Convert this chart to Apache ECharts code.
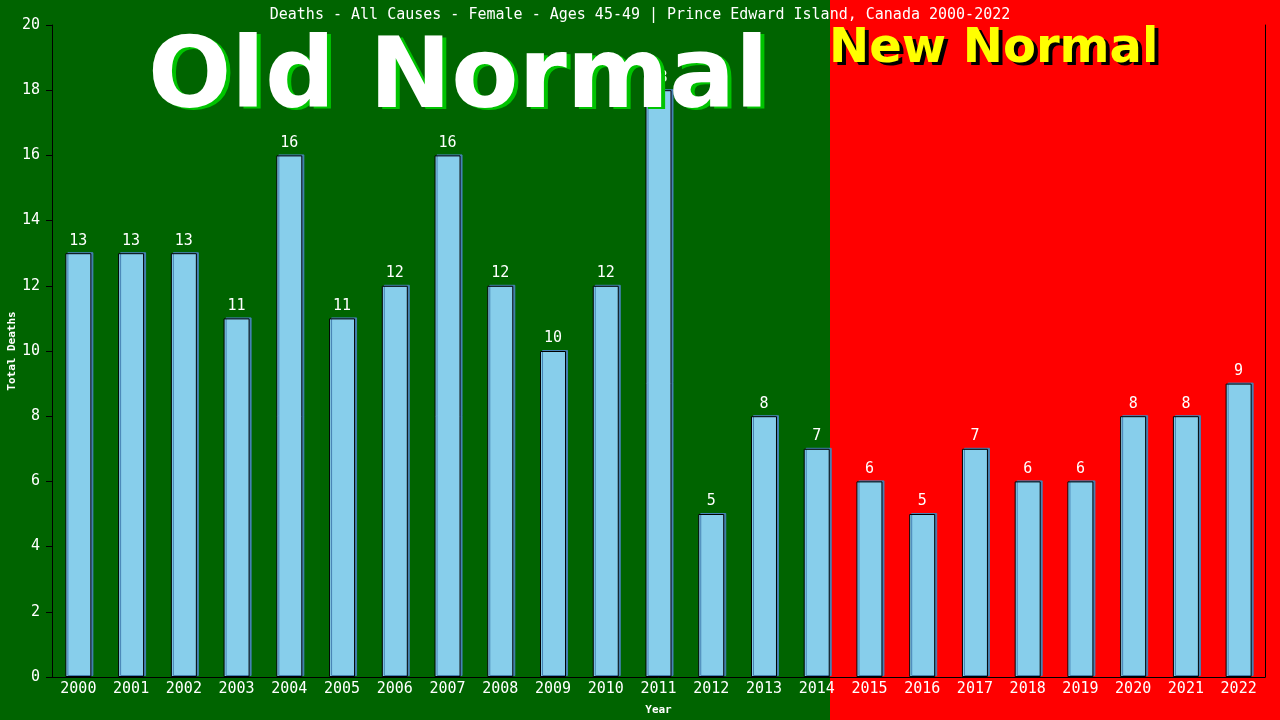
<!DOCTYPE html>
<html>
<head>
<meta charset="utf-8">
<script src="https://cdn.jsdelivr.net/npm/echarts@6/dist/echarts.min.js"></script>
<style>
  html, body { margin: 0; padding: 0; background: #006400; }
  #chart { width: 1280px; height: 720px; }
</style>
</head>
<body>
<div id="chart"></div>
<script>
// data
var years = ['2000','2001','2002','2003','2004','2005','2006','2007','2008','2009','2010','2011',
             '2012','2013','2014','2015','2016','2017','2018','2019','2020','2021','2022'];
var deaths = [13, 13, 13, 11, 16, 11, 12, 16, 12, 10, 12, 18, 5, 8, 7, 6, 5, 7, 6, 6, 8, 8, 9];
var yTicks = [0, 2, 4, 6, 8, 10, 12, 14, 16, 18, 20];

var mono = '"DejaVu Sans Mono", "Liberation Mono", monospace';
var bigFont = '"DejaVu Sans", Verdana, sans-serif';

var chart = echarts.init(document.getElementById('chart'));

var option = {
  backgroundColor: '#006400',
  animation: false,
  title: {
    text: 'Deaths - All Causes - Female - Ages 45-49 | Prince Edward Island, Canada 2000-2022',
    left: 'center',
    top: 3,
    textStyle: { color: '#fff', fontFamily: mono, fontSize: 15, fontWeight: 'normal' }
  },
  graphic: [
    // red "new normal" background, from the end of 2014 to the right edge
    { type: 'rect', z: -10, silent: true,
      shape: { x: 830, y: 0, width: 450, height: 720 },
      style: { fill: '#ff0000' } },
    // shadow copies drawn first, then the text
    { type: 'text', z: 99, left: 152, top: 35,
      style: { text: 'Old Normal', fill: '#00c400', font: 'bold 98px ' + bigFont } },
    { type: 'text', z: 100, left: 148, top: 33,
      style: { text: 'Old Normal', fill: '#fff', font: 'bold 98px ' + bigFont } },
    { type: 'text', z: 99, left: 833, top: 29,
      style: { text: 'New Normal', fill: '#000', font: 'bold 48px ' + bigFont } },
    { type: 'text', z: 100, left: 829, top: 26,
      style: { text: 'New Normal', fill: '#ffff00', font: 'bold 48px ' + bigFont } }
  ],
  grid: { left: 52, right: 15, top: 25, bottom: 43, show: false, outerBoundsMode: 'none', containLabel: false },
  xAxis: {
    type: 'category',
    data: years,
    name: 'Year',
    nameLocation: 'middle',
    nameGap: 28,
    nameMoveOverlap: false,
    nameTextStyle: { color: '#fff', fontFamily: mono, fontSize: 11, fontWeight: 'bold' },
    axisLine: { lineStyle: { color: '#000', width: 1 } },
    axisTick: { show: false },
    axisLabel: { color: '#fff', fontFamily: mono, fontSize: 15, margin: 5 }
  },
  yAxis: [{
    type: 'value',
    min: 0, max: 20, interval: 2,
    name: 'Total Deaths',
    nameLocation: 'middle',
    nameGap: 34,
    nameMoveOverlap: false,
    nameTextStyle: { color: '#fff', fontFamily: mono, fontSize: 11, fontWeight: 'bold' },
    axisLine: { show: true, lineStyle: { color: '#000', width: 1 } },
    axisTick: { show: true, length: 6, lineStyle: { color: '#000' } },
    axisLabel: { color: '#fff', fontFamily: mono, fontSize: 15, margin: 12,
                 formatter: function (v) { return yTicks.indexOf(v) >= 0 ? String(v) : ''; } },
    splitLine: { show: false }
  }, {
    type: 'value',
    min: 0, max: 20, interval: 2,
    position: 'right',
    axisLine: { show: true, lineStyle: { color: '#000', width: 1 } },
    axisTick: { show: false },
    axisLabel: { show: false },
    splitLine: { show: false }
  }],
  series: [{
    type: 'bar',
    data: deaths,
    barWidth: 26,
    itemStyle: {
      color: '#87ceeb',
      borderColor: '#000',
      borderWidth: 1,
      shadowColor: '#4682b4',
      shadowOffsetX: 2,
      shadowOffsetY: -1,
      shadowBlur: 0
    },
    label: {
      show: true,
      position: 'top',
      distance: 5,
      color: '#fff',
      fontFamily: mono,
      fontSize: 15
    }
  }]
};

chart.setOption(option);
</script>
</body>
</html>
